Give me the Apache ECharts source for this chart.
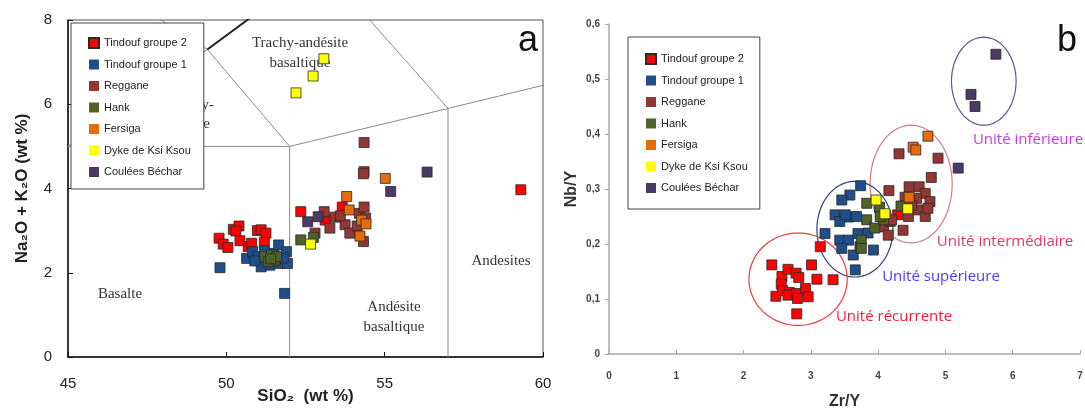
<!DOCTYPE html>
<html>
<head>
<meta charset="utf-8">
<script src="https://cdn.jsdelivr.net/npm/echarts@6/dist/echarts.min.js"></script>
<style>html,body{margin:0;padding:0;background:#fff}#c{width:1085px;height:410px}</style>
</head>
<body>
<div id="c"></div>
<script>
// ---------- DATA ----------
const groupNames = ['Tindouf groupe 2','Tindouf groupe 1','Reggane','Hank','Fersiga','Dyke de Ksi Ksou','Coulées Béchar'];
const groupColors = ['#ff0000','#1f4e8c','#943634','#4f6228','#e46c0a','#ffff00','#4b3a66'];

// Panel a : SiO2 (wt %) vs Na2O+K2O (wt %)
const tindouf2A = [[49.77,2.82],[49.9,2.68],[50.05,2.60],[50.22,3.03],[50.4,3.11],[50.3,2.99],[50.43,2.76],[50.69,2.62],[50.8,2.70],[50.98,3.0],[51.1,3.02],[51.25,2.94],[51.2,2.72],[52.35,3.45],[53.66,3.56],[53.12,3.25],[59.3,3.97]];
const tindouf1A = [[49.8,2.12],[50.64,2.34],[50.83,2.5],[51.0,2.38],[51.1,2.14],[51.38,2.18],[51.5,2.46],[51.65,2.66],[51.7,2.22],[51.9,2.5],[51.93,2.22],[51.84,1.51],[50.9,2.28],[51.2,2.52],[51.55,2.3],[51.8,2.35]];
const regganeA = [[54.35,5.09],[54.35,4.40],[54.33,4.35],[53.09,3.45],[53.43,3.32],[53.27,3.06],[53.75,3.14],[53.9,2.94],[54.2,3.41],[54.35,3.56],[54.13,3.11],[54.33,2.74],[52.8,2.94],[54.4,3.3],[53.6,3.35]];
const hankA = [[51.22,2.38],[51.43,2.42],[51.54,2.30],[51.32,2.26],[51.59,2.38],[51.4,2.33],[52.35,2.78],[52.75,2.84]];
const fersigaA = [[55.02,4.24],[53.8,3.81],[53.88,3.49],[54.27,3.25],[54.41,3.16],[54.22,2.87]];
const dykeA = [[52.2,6.27],[52.74,6.67],[53.08,7.08],[52.66,2.68]];
const becharA = [[55.19,3.93],[52.57,3.21],[52.9,3.33],[56.34,4.39]];

// Panel b : Zr/Y vs Nb/Y
const tindouf2B = [[2.42,0.162],[2.48,0.105],[2.57,0.141],[2.56,0.127],[2.58,0.115],[2.66,0.154],[2.68,0.112],[2.66,0.107],[2.78,0.147],[2.82,0.139],[2.79,0.110],[2.80,0.101],[2.92,0.119],[2.96,0.104],[2.79,0.073],[3.01,0.162],[3.09,0.136],[3.14,0.195],[3.33,0.135],[4.29,0.253]];
const tindouf1B = [[3.74,0.306],[3.58,0.289],[3.46,0.28],[3.36,0.253],[3.56,0.249],[3.68,0.250],[3.43,0.241],[3.21,0.219],[4.08,0.253],[3.43,0.207],[3.56,0.207],[3.46,0.192],[3.63,0.180],[3.66,0.153],[3.70,0.219],[3.73,0.195],[3.93,0.189],[3.51,0.253],[3.85,0.22]];
const regganeB = [[4.31,0.364],[4.89,0.356],[4.79,0.321],[4.16,0.297],[4.46,0.304],[4.61,0.304],[4.70,0.292],[4.77,0.277],[4.57,0.283],[4.40,0.285],[4.45,0.250],[4.60,0.262],[4.70,0.250],[4.74,0.265],[4.08,0.231],[4.18,0.241],[4.37,0.225],[4.15,0.216],[4.20,0.244],[4.5,0.27]];
const hankB = [[3.83,0.274],[4.02,0.267],[3.83,0.244],[3.95,0.229],[4.08,0.244],[4.34,0.269],[3.75,0.207],[3.75,0.192],[4.03,0.25]];
const fersigaB = [[4.74,0.396],[4.52,0.376],[4.56,0.371],[4.46,0.285]];
const dykeB = [[3.97,0.28],[4.44,0.264],[4.1,0.255]];
const becharB = [[5.75,0.545],[5.38,0.472],[5.44,0.45],[5.19,0.338]];

// TAS diagram field boundaries (SiO2, Na2O+K2O)
const tasGrey = [
  [[52,0],[52,5]], [[45,5],[52,5]], [[52,5],[57,5.9]], [[57,0],[57,5.9]],
  [[57,5.9],[63,7]], [[52,5],[49.4,7.3]], [[57,5.9],[53,9.3]], [[49.4,7.3],[45,9.4]], [[45,5],[49.4,7.3]]
];
const tasDark = [[[49.4,7.3],[53,9.3]]];

// Unit ellipses in panel b: [centre Zr/Y, centre Nb/Y, radius Zr/Y, radius Nb/Y]
const unitEllipses = [[5.57,0.496,0.48,0.08],[4.49,0.309,0.61,0.107],[3.655,0.227,0.565,0.087],[2.81,0.136,0.73,0.084]];
const unitEllipseColors = ['#5a5a8c','#d77a80','#2e3f7c','#ee3b3b'];

// Axis tick labels
const xTicksA = [45,50,55,60];
const yTicksA = [0,2,4,6,8];
const xTicksB = [0,1,2,3,4,5,6,7];
const yTicksB = ['0','0,1','0,2','0,3','0,4','0,5','0,6'];

// ---------- CHART ----------
const chart = echarts.init(document.getElementById('c'), null, {renderer:'canvas'});
const dataA = [tindouf2A,tindouf1A,regganeA,hankA,fersigaA,dykeA,becharA];
const dataB = [tindouf2B,tindouf1B,regganeB,hankB,fersigaB,dykeB,becharB];

const series = [];
tasGrey.forEach(seg => series.push({type:'line', xAxisIndex:0, yAxisIndex:0, data:seg, symbol:'none', silent:true, clip:true,
  lineStyle:{color:'#8a8a8a', width:1}, z:1}));
tasDark.forEach(seg => series.push({type:'line', xAxisIndex:0, yAxisIndex:0, data:seg, symbol:'none', silent:true, clip:true,
  lineStyle:{color:'#222', width:2}, z:1}));

series.push({
  type:'custom', xAxisIndex:1, yAxisIndex:1, data:unitEllipses, silent:true, z:1,
  renderItem(params, api){
    const c = api.coord([api.value(0), api.value(1)]);
    const s = api.size([api.value(2), api.value(3)]);
    const pts = [];
    for (let i=0;i<96;i++){ const t=i/96*Math.PI*2; pts.push([c[0]+s[0]*Math.cos(t), c[1]+s[1]*Math.sin(t)]); }
    return {type:'polygon', shape:{points:pts}, style:{fill:null, stroke:unitEllipseColors[params.dataIndex], lineWidth:1.2}};
  }
});

groupNames.forEach((n,i) => {
  const st = {color:groupColors[i], borderColor:'#2a2a2a', borderWidth:0.8, opacity:1};
  series.push({type:'scatter', name:n, xAxisIndex:0, yAxisIndex:0, data:dataA[i], symbol:'rect', symbolSize:10, itemStyle:st, z:3});
  series.push({type:'scatter', name:n, xAxisIndex:1, yAxisIndex:1, data:dataB[i], symbol:'rect', symbolSize:10, itemStyle:st, z:3});
});

const legendData = groupNames.map((n,i)=> i===0 ? {name:n} : {name:n, itemStyle:{borderWidth:0}});
const legendCommon = {orient:'vertical', icon:'rect', itemWidth:10, itemHeight:10, itemGap:9.5,
  backgroundColor:'#fff', borderColor:'#444', borderWidth:1, selectedMode:false, z:10,
  textStyle:{fontFamily:'Liberation Sans, Arial, sans-serif', fontSize:11, color:'#222', lineHeight:12}, data:legendData};

const serif = 'Liberation Serif, Times New Roman, serif';
const sans = 'Liberation Sans, Arial, sans-serif';
const txt = (x,y,t,opt={}) => ({type:'text', x, y, z:0, style:Object.assign({text:t, fontFamily:serif, fontSize:15, fill:'#333', textAlign:'center', textVerticalAlign:'middle'}, opt)});

chart.setOption({
  animation:false,
  backgroundColor:'#fff',
  legend:[
    Object.assign({left:71, top:23, padding:[14,13,11,17]}, legendCommon),
    Object.assign({left:628, top:37, padding:[16,12,15,17], itemGap:10}, legendCommon)
  ],
  grid:[
    {left:68, top:20, width:475, height:337, show:true, borderColor:'#555', borderWidth:1, backgroundColor:'transparent', containLabel:false, outerBoundsMode:'none'},
    {left:609, top:24, width:471, height:330, containLabel:false, outerBoundsMode:'none'}
  ],
  xAxis:[
    {type:'value', gridIndex:0, min:45, max:60, interval:5,
      axisLine:{lineStyle:{color:'#111', width:1.5}}, axisTick:{inside:true, length:5, lineStyle:{color:'#111'}},
      axisLabel:{margin:19, fontSize:15, color:'#222', fontFamily:sans, formatter:v=>xTicksA.includes(v)?String(v):''},
      splitLine:{show:false},
      name:'SiO\u2082  (wt %)', nameLocation:'middle', nameGap:31, nameMoveOverlap:false,
      nameTextStyle:{fontSize:17, fontWeight:'bold', color:'#222', fontFamily:sans}},
    {type:'value', gridIndex:1, min:0, max:7, interval:1,
      axisLine:{lineStyle:{color:'#a8a8a8', width:1.5}}, axisTick:{inside:true, length:4, lineStyle:{color:'#a8a8a8'}},
      axisLabel:{margin:17, fontSize:10, fontWeight:'bold', color:'#444', fontFamily:sans, formatter:v=>String(xTicksB[Math.round(v)])},
      splitLine:{show:false},
      name:'Zr/Y', nameLocation:'middle', nameGap:40, nameMoveOverlap:false,
      nameTextStyle:{fontSize:16, fontWeight:'bold', color:'#333', fontFamily:sans}}
  ],
  yAxis:[
    {type:'value', gridIndex:0, min:0, max:8, interval:2,
      axisLine:{lineStyle:{color:'#111', width:1.5}}, axisTick:{inside:true, length:5, lineStyle:{color:'#111'}},
      axisLabel:{margin:16, fontSize:15, color:'#222', fontFamily:sans, formatter:v=>yTicksA.includes(v)?String(v):''},
      splitLine:{show:false},
      name:'Na\u2082O + K\u2082O (wt %)', nameLocation:'middle', nameGap:37, nameMoveOverlap:false,
      nameTextStyle:{fontSize:17, fontWeight:'bold', color:'#222', fontFamily:sans}},
    {type:'value', gridIndex:1, min:0, max:0.6, interval:0.1,
      axisLine:{show:true, lineStyle:{color:'#a8a8a8', width:1.5}}, axisTick:{show:true, length:4, lineStyle:{color:'#a8a8a8'}},
      axisLabel:{margin:9, fontSize:10, fontWeight:'bold', color:'#444', fontFamily:sans, formatter:v=>yTicksB[Math.round(v*10)]},
      splitLine:{show:false},
      name:'Nb/Y', nameLocation:'middle', nameGap:29, nameMoveOverlap:false,
      nameTextStyle:{fontSize:16, fontWeight:'bold', color:'#333', fontFamily:sans}}
  ],
  graphic:[
    txt(300,43,'Trachy-andésite'),
    txt(300,63,'basaltique'),
    txt(214,105,'Trachy-',{textAlign:'right'}),
    txt(210,124,'basalte',{textAlign:'right'}),
    txt(120,294,'Basalte'),
    txt(394,307,'Andésite'),
    txt(394,327,'basaltique'),
    txt(501,261,'Andesites'),
    {type:'text', x:528, y:41, z:0, style:{text:'a', fontFamily:sans, fontSize:36, fill:'#111', textAlign:'center', textVerticalAlign:'middle'}},
    {type:'text', x:1067, y:41, z:0, style:{text:'b', fontFamily:sans, fontSize:36, fill:'#111', textAlign:'center', textVerticalAlign:'middle'}},
    {type:'text', x:1028, y:140, z:0, style:{text:'Unité inférieure', fontFamily:'Open Sans, sans-serif', fontSize:15, fill:'#c53be0', textAlign:'center', textVerticalAlign:'middle'}},
    {type:'text', x:1005, y:242, z:0, style:{text:'Unité intermédiaire', fontFamily:'Open Sans, sans-serif', fontSize:15, fill:'#e8336e', textAlign:'center', textVerticalAlign:'middle'}},
    {type:'text', x:941, y:277, z:0, style:{text:'Unité supérieure', fontFamily:'Open Sans, sans-serif', fontSize:15, fill:'#4b3cf0', textAlign:'center', textVerticalAlign:'middle'}},
    {type:'text', x:894, y:317, z:0, style:{text:'Unité récurrente', fontFamily:'Open Sans, sans-serif', fontSize:15, fill:'#f0203a', textAlign:'center', textVerticalAlign:'middle'}}
  ],
  series
});
</script>
</body>
</html>
